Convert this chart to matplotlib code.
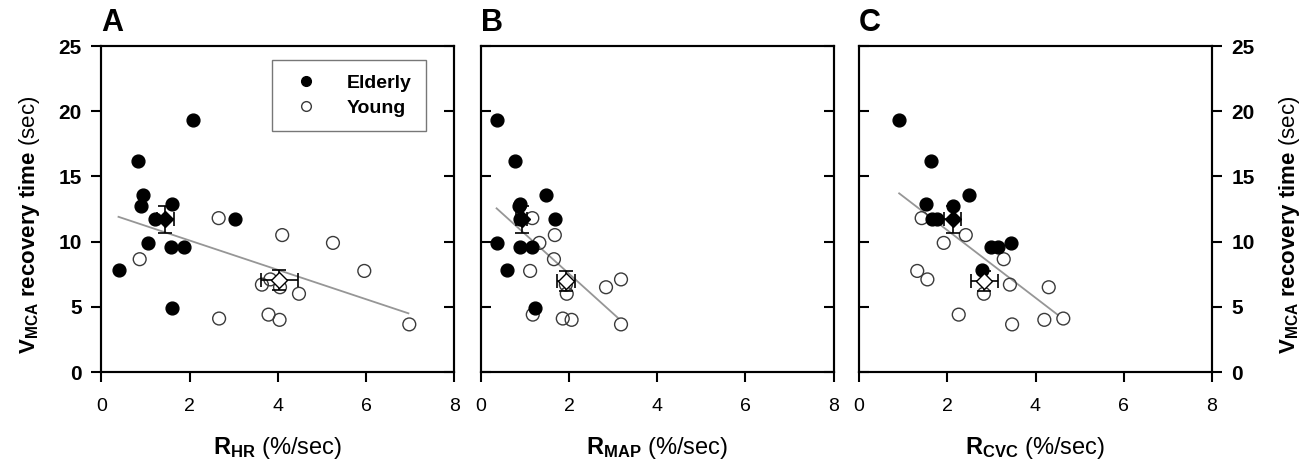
import numpy as np
import matplotlib
matplotlib.use("Agg")
import matplotlib.pyplot as plt
from matplotlib.lines import Line2D

plt.rcParams["font.family"] = ["Liberation Sans", "DejaVu Sans"]
plt.rcParams["mathtext.fontset"] = "custom"
plt.rcParams["mathtext.rm"] = "Liberation Sans"
plt.rcParams["mathtext.bf"] = "Liberation Sans:bold"
plt.rcParams["mathtext.it"] = "Liberation Sans:italic"

# recovery time (sec), same subjects in every panel
elderly_time = [19.3, 16.2, 13.6, 12.9, 12.7, 11.7, 11.7, 9.9, 9.6, 9.6, 7.8, 4.9]
young_time = [11.8, 10.5, 9.9, 8.65, 7.75, 7.1, 6.7, 6.5, 6.0, 4.4, 4.1, 4.0, 3.65]

# x values per panel (%/sec)
elderly_hr = [2.07, 0.83, 0.94, 1.60, 0.89, 1.22, 3.03, 1.05, 1.58, 1.88, 0.40, 1.61]
elderly_map = [0.38, 0.78, 1.47, 0.88, 0.86, 0.90, 1.68, 0.36, 0.88, 1.17, 0.59, 1.23]
elderly_cvc = [0.91, 1.64, 2.50, 1.52, 2.13, 1.65, 1.76, 3.44, 3.00, 3.15, 2.79, np.nan]

young_hr = [2.66, 4.10, 5.25, 0.87, 5.96, 3.83, 3.64, 4.05, 4.48, 3.79, 2.67, 4.04, 6.98]
young_map = [1.17, 1.68, 1.33, 1.66, 1.12, 3.18, 1.93, 2.84, 1.95, 1.18, 1.86, 2.06, 3.18]
young_cvc = [1.42, 2.42, 1.92, 3.28, 1.32, 1.55, 3.42, 4.30, 2.83, 2.26, 4.63, 4.20, 3.47]

# group means +/- SE: (x, y, xerr, yerr)
elderly_mean = [(1.45, 11.7, 0.19, 1.05), (0.93, 11.7, 0.12, 1.05), (2.12, 11.7, 0.19, 1.05)]
young_mean = [(4.03, 7.05, 0.42, 0.75), (1.93, 7.0, 0.20, 0.75), (2.84, 7.0, 0.31, 0.77)]

# regression line end points
fit_x = [(0.39, 6.96), (0.36, 3.12), (0.91, 4.51)]
fit_y = [(11.9, 4.5), (12.55, 4.12), (13.7, 4.37)]

letters = ["A", "B", "C"]
xlabels = [r"$\mathbf{R_{HR}}$ (%/sec)", r"$\mathbf{R_{MAP}}$ (%/sec)", r"$\mathbf{R_{CVC}}$ (%/sec)"]
ylabel = r"$\mathbf{V_{MCA}\ recovery\ time}$ (sec)"
elderly_x = [elderly_hr, elderly_map, elderly_cvc]
young_x = [young_hr, young_map, young_cvc]
yt = [0, 5, 10, 15, 20, 25]

fig = plt.figure(figsize=(13.11, 4.65), dpi=100)
lefts = [101.3 / 1311, 480.7 / 1311, 859 / 1311]
w = 353 / 1311
bottom = 1 - 372 / 465
h = 326 / 465

for i in range(3):
    ax = fig.add_axes([lefts[i], bottom, w, h])
    ax.plot([fit_x[i][0], fit_x[i][1]], [fit_y[i][0], fit_y[i][1]], color="#969696", lw=1.3, zorder=2)
    ax.scatter(young_x[i], young_time, s=85, facecolors="none", edgecolors="#3a3a3a", linewidths=1.0, zorder=3)
    ax.scatter(elderly_x[i], elderly_time, s=85, color="black", zorder=4)
    mx, my, ex, ey = elderly_mean[i]
    ax.errorbar(mx, my, xerr=ex, yerr=ey, fmt="D", ms=8.5, mfc="black", mec="black",
                ecolor="black", elinewidth=1.2, capsize=5, capthick=1.2, zorder=5)
    mx, my, ex, ey = young_mean[i]
    ax.errorbar(mx, my, xerr=ex, yerr=ey, fmt="D", ms=8.5, mfc="white", mec="black",
                ecolor="black", elinewidth=1.2, capsize=5, capthick=1.2, zorder=5)

    ax.set_xlim(0, 8)
    ax.set_ylim(0, 25)
    ax.set_xticks([0, 2, 4, 6, 8])
    ax.set_yticks(yt)
    for s in ax.spines.values():
        s.set_linewidth(1.5)
    ax.tick_params(axis="x", direction="out", length=7, width=1.5, pad=12, labelsize=14)
    ax.set_xlabel(xlabels[i], fontsize=17, labelpad=14)

    axr = ax.twinx()
    axr.set_ylim(0, 25)
    axr.set_yticks(yt)
    for s in axr.spines.values():
        s.set_linewidth(1.5)

    if i == 0:
        ax.tick_params(axis="y", direction="out", length=7, width=1.5, labelsize=15, pad=7)
        for t in ax.get_yticklabels():
            t.set_fontweight("bold")
        ax.set_ylabel(ylabel, fontsize=16)
        ax.yaxis.set_label_coords(-0.168, 0.45)
    else:
        ax.tick_params(axis="y", direction="in", length=7, width=1.5, labelleft=False)

    if i == 2:
        axr.tick_params(axis="y", direction="out", length=7, width=1.5, labelsize=15, pad=7)
        for t in axr.get_yticklabels():
            t.set_fontweight("bold")
        axr.set_ylabel(ylabel, fontsize=16, rotation=90)
        axr.yaxis.set_label_coords(1.184, 0.45)
    else:
        axr.tick_params(axis="y", direction="in", length=7, width=1.5, labelright=False)

    ax.text(0.0, 1.025, letters[i], transform=ax.transAxes, fontsize=22,
            fontweight="bold", ha="left", va="bottom")

    if i == 0:
        handles = [Line2D([], [], marker="o", ls="", color="black", ms=7),
                   Line2D([], [], marker="o", ls="", mfc="none", mec="#3a3a3a", ms=7)]
        leg = ax.legend(handles, ["Elderly", "Young"], loc="upper right",
                        bbox_to_anchor=(0.92, 0.957), borderaxespad=0,
                        prop={"weight": "bold", "size": 14},
                        frameon=True, fancybox=False, edgecolor="#555555",
                        borderpad=0.75, handletextpad=1.1, labelspacing=0.35)
        leg.get_frame().set_linewidth(1.0)

fig.savefig("out.png", dpi=100)
